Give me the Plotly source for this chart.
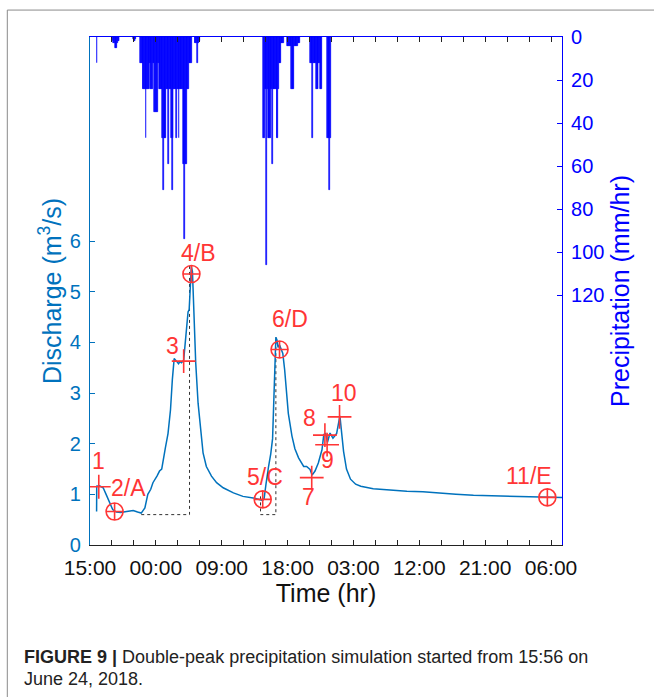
import plotly.graph_objects as go

# ---------------- data ----------------
# discharge hydrograph (hours after 15:00, m3/s)
q_hours = [0.9, 0.92, 1.3, 1.8, 2.2, 2.7, 3.1, 3.6, 4.2, 5.0,
           5.9, 6.5, 7.0, 7.5, 7.9, 8.3, 8.6, 9.15, 9.5, 9.8,
           10.0, 10.3, 10.66, 11.0, 11.25, 11.5, 11.7, 11.9, 12.1, 12.3,
           12.5, 12.8, 12.95, 13.2, 13.4, 13.55, 13.72, 13.85, 14.0, 14.18,
           14.45, 14.77, 15.1, 15.45, 15.9, 16.6, 17.3, 18.2, 19.6, 20.9,
           22.3, 23.2, 23.6, 23.8, 23.9, 24.05, 24.4, 24.7, 24.95, 25.1,
           25.25, 25.4, 25.55, 25.7, 25.9, 26.15, 26.35, 26.6, 26.85, 27.1,
           27.6, 28.0, 28.5, 29.2, 29.6, 30.07, 30.35, 30.75, 31.2, 31.7,
           31.95, 32.2, 32.45, 32.8, 33.2, 33.7, 34.15, 34.35, 34.65, 35.05,
           35.6, 36.3, 37.0, 38.7, 41.0, 43.3, 45.5, 47.9, 50.0, 52.4,
           57.0, 60.0, 64.5]
q_values = [0.66, 1.16, 1.17, 1.13, 1.0, 0.83, 0.70, 0.65, 0.64, 0.66,
            0.68, 0.65, 0.63, 0.73, 1.0, 1.1, 1.23, 1.36, 1.46, 1.5,
            1.7, 1.92, 2.2, 2.67, 3.26, 3.68, 3.65, 3.62, 3.58, 3.62,
            3.6, 3.65, 3.9, 4.32, 4.6, 4.65, 5.3, 5.5, 5.4, 4.58,
            3.59, 2.8, 2.28, 1.82, 1.55, 1.36, 1.23, 1.13, 1.03, 0.96,
            0.93, 0.9, 0.88, 0.92, 1.0, 1.2, 1.55, 1.8, 2.1, 2.9,
            3.7, 4.1, 4.05, 3.9, 3.95, 3.85, 3.78, 3.46, 2.95, 2.6,
            2.15, 1.9, 1.72, 1.55, 1.55, 1.49, 1.38, 1.46, 1.62, 1.88,
            2.18, 2.2, 2.03, 2.21, 2.11, 2.2, 2.55, 2.3, 1.85, 1.5,
            1.3, 1.2, 1.16, 1.11, 1.08, 1.06, 1.05, 1.02, 1.0, 0.98,
            0.96, 0.95, 0.94]

# precipitation (mm/hr), 6-minute blocks starting at these hours
rain_step = 0.1
rain_block_start = [0.9, 3.1, 5.9, 6.9, 14.3, 23.7, 26.9, 30.1, 32.4]
rain_block_values = [
    [12],
    [2, 3, 3, 5, 5, 5, 3, 2, 2],
    [1, 2, 2, 1],
    [12, 12, 12, 24, 24, 24, 24, 47, 24, 24, 24, 24, 12, 24, 12, 24, 24, 12, 12, 35,
     35, 35, 12, 35, 12, 24, 24, 24, 24, 24, 47, 71, 47, 47, 47, 24, 24, 24, 59, 24,
     24, 24, 47, 71, 47, 24, 24, 24, 24, 47, 24, 24, 47, 24, 24, 24, 24, 24, 59, 59,
     94, 59, 59, 24, 24, 24, 12, 12, 12, 12],
    [3, 3, 3, 12, 3, 3, 2],
    [47, 47, 24, 24, 106, 24, 47, 47, 47, 47, 24, 24, 59, 24, 24, 24, 24, 24, 47, 47,
     24, 12, 12, 12, 3, 3, 3, 3],
    [4, 4, 4, 4, 4, 4, 24, 24, 24, 24, 4, 4, 4, 4, 4, 3, 3, 3],
    [12, 12, 12, 47, 12, 12, 12, 12, 24, 24, 24, 12, 12, 24, 24, 24],
    [47, 47, 47, 71, 47],
]

# characteristic points
pt_labels = ["1", "2/A", "3", "4/B", "5/C", "6/D", "7", "8", "9", "10", "11/E"]
pt_hours = [1.2, 3.36, 12.8, 13.86, 23.6, 25.9, 30.3, 32.1, 32.4, 34.1, 62.5]
pt_values = [1.15, 0.66, 3.63, 5.35, 0.9, 3.86, 1.33, 2.17, 1.98, 2.53, 0.94]
pt_is_circle = [False, True, False, True, True, True, False, False, False, False, True]

# baseflow separation outlines (dotted)
sep1_hours = [7.0, 13.6, 13.6, 13.85]
sep1_values = [0.6, 0.6, 5.53, 5.53]
sep2_hours = [23.3, 23.3, 25.4, 25.4]
sep2_values = [0.96, 0.6, 0.6, 4.1]

x_label_hours = [0, 9, 18, 27, 36, 45, 54, 63]
x_label_names = ["15:00", "00:00", "09:00", "18:00", "03:00", "12:00", "21:00", "06:00"]
x_minor_hours = [3, 6, 12, 15, 21, 24, 30, 33, 39, 42, 48, 51, 57, 60]
q_ticks = [0, 1, 2, 3, 4, 5, 6]
p_ticks = [0, 20, 40, 60, 80, 100, 120]

# ---------------- figure ----------------
rain_x, rain_y = [], []
for s, vals in zip(rain_block_start, rain_block_values):
    for i, v in enumerate(vals):
        rain_x.append(round(s + i * rain_step, 2))
        rain_y.append(v)

RED = "#FF3535"
QBLUE = "#0072BD"
PBLUE = "#0000FF"
FONT = "Liberation Sans, Arial, sans-serif"

fig = go.Figure()

fig.add_trace(go.Bar(x=rain_x, y=rain_y, yaxis="y2", offset=0, width=rain_step,
                     marker=dict(color=PBLUE, line=dict(color=PBLUE, width=0.6)),
                     showlegend=False, hoverinfo="skip"))

fig.add_trace(go.Scatter(x=sep1_hours, y=sep1_values, mode="lines",
                         line=dict(color="#333333", width=1, dash="dot"), showlegend=False))
fig.add_trace(go.Scatter(x=sep2_hours, y=sep2_values, mode="lines",
                         line=dict(color="#333333", width=1, dash="dot"), showlegend=False))

fig.add_trace(go.Scatter(x=q_hours, y=q_values, mode="lines",
                         line=dict(color=QBLUE, width=1.5), showlegend=False))

sym = ["circle-cross-open" if c else "cross-thin-open" for c in pt_is_circle]
fig.add_trace(go.Scatter(x=pt_hours, y=pt_values, mode="markers",
                         marker=dict(symbol=sym, size=17, color=RED,
                                     line=dict(color=RED, width=1.6)),
                         showlegend=False))

# label offsets (pixels) relative to their points
label_shift = {"1": (0, 26), "2/A": (14, 24), "3": (-11, 15), "4/B": (7, 21),
               "5/C": (2, 22), "6/D": (10, 31), "7": (-3, -19), "8": (-15, 17),
               "9": (0, -15), "10": (4, 24), "11/E": (-18, 21)}
for lab, hx, qv in zip(pt_labels, pt_hours, pt_values):
    dx, dy = label_shift[lab]
    fig.add_annotation(x=hx, y=qv, xref="x", yref="y", text=lab, showarrow=False,
                       xshift=dx, yshift=dy, font=dict(color=RED, size=23, family=FONT))

minor_common = dict(ticks="inside", ticklen=5, tickcolor="#222222", tickvals=x_minor_hours)

fig.update_layout(
    width=654, height=697,
    margin=dict(l=90, r=92, t=37, b=152),
    paper_bgcolor="white", plot_bgcolor="white",
    font=dict(family=FONT, color="black"),
    bargap=0,
    xaxis=dict(range=[0, 64.5], tickvals=x_label_hours, ticktext=x_label_names,
               ticks="inside", ticklen=5, tickcolor="#222222", showline=True,
               linecolor="#222222", linewidth=1, showgrid=False, zeroline=False,
               minor=minor_common,
               tickfont=dict(size=21, color="#111111"), ticklabelstandoff=4,
               title=dict(text="Time (hr)", font=dict(size=25, color="#111111"), standoff=4)),
    xaxis2=dict(overlaying="x", matches="x", side="top", range=[0, 64.5],
                tickvals=x_label_hours, ticks="inside", ticklen=5, tickcolor="#222222",
                minor=minor_common,
                showticklabels=False, showline=True, linecolor=PBLUE, linewidth=1,
                showgrid=False, zeroline=False),
    yaxis=dict(range=[0, 10.03], tickvals=q_ticks, ticks="inside", ticklen=5,
               tickcolor=QBLUE, showline=True, linecolor=QBLUE, linewidth=1.2,
               showgrid=False, zeroline=False,
               tickfont=dict(size=20, color=QBLUE), ticklabelstandoff=4,
               title=dict(text="Discharge (m<sup>3</sup>/s)", font=dict(size=25, color=QBLUE),
                          standoff=1)),
    yaxis2=dict(overlaying="y", side="right", range=[236, 0], tickvals=p_ticks,
                ticks="inside", ticklen=5, tickcolor=PBLUE, showline=True,
                linecolor=PBLUE, linewidth=1.2, showgrid=False, zeroline=False,
                tickfont=dict(size=20, color=PBLUE), ticklabelstandoff=4,
                title=dict(text="Precipitation (mm/hr)", font=dict(size=25, color=PBLUE),
                           standoff=8)),
)
# an invisible point to activate the top axis
fig.add_trace(go.Scatter(x=[0], y=[0], xaxis="x2", mode="markers",
                         marker=dict(opacity=0), showlegend=False, hoverinfo="skip"))

# frame lines of the figure panel
fig.add_shape(type="line", xref="paper", yref="paper", x0=-0.1752, x1=1.2, y0=1.053, y1=1.053,
              line=dict(color="#8a8a8a", width=1))
fig.add_shape(type="line", xref="paper", yref="paper", x0=-0.1752, x1=-0.1752, y0=1.053, y1=-0.31,
              line=dict(color="#8a8a8a", width=1))

CAP = "Liberation Sans, Arial, sans-serif"
fig.add_annotation(xref="paper", yref="paper", x=-0.1445, y=-0.2213, xanchor="left",
                   yanchor="middle", showarrow=False, align="left",
                   text="<b>FIGURE 9 |</b> Double-peak precipitation simulation started from 15:56 on",
                   font=dict(family=CAP, size=18, color="#222222"))
fig.add_annotation(xref="paper", yref="paper", x=-0.1445, y=-0.2645, xanchor="left",
                   yanchor="middle", showarrow=False, align="left",
                   text="June 24, 2018.", font=dict(family=CAP, size=18, color="#222222"))

fig.write_html("out.html", config={"displayModeBar": False},
               post_script="document.body.style.margin='0';")
